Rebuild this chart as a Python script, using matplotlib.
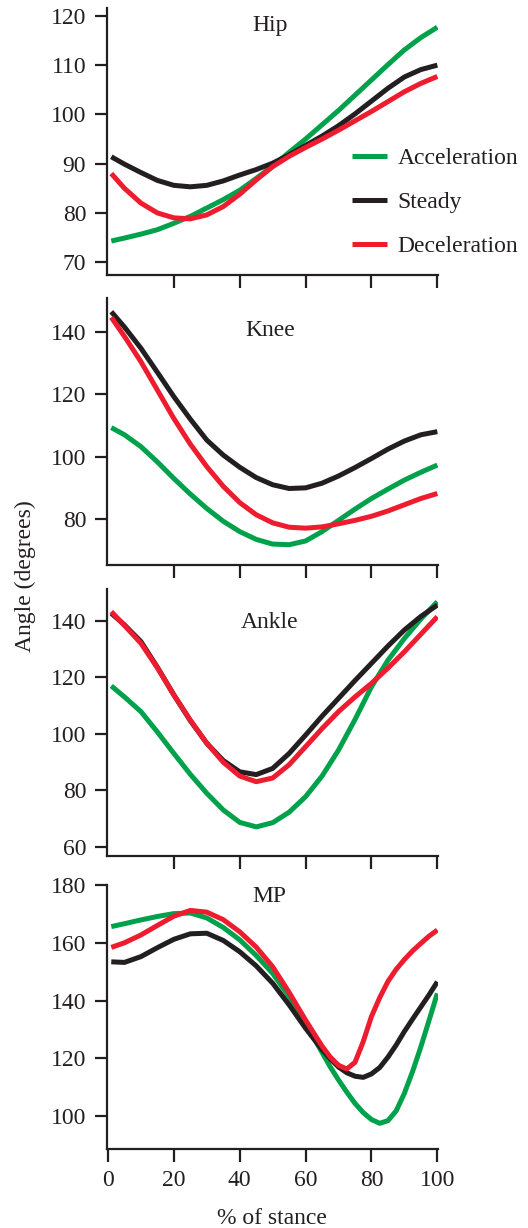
import matplotlib
matplotlib.use("Agg")
import matplotlib.pyplot as plt

plt.rcParams['font.family'] = ['Liberation Serif', 'DejaVu Serif']
plt.rcParams['font.size'] = 17

# ---------------- data ----------------
X = [1, 5, 10, 15, 20, 25, 30, 35, 40, 45, 50, 55, 60, 65, 70, 75, 80, 85, 90, 95, 100]

hip_acc = [74.3, 74.9, 75.7, 76.6, 77.9, 79.3, 81.0, 82.7, 84.6, 87.0, 89.5, 92.3, 95.0,
           97.9, 100.8, 103.9, 107.0, 110.1, 113.1, 115.6, 117.7]
hip_ste = [91.4, 89.9, 88.2, 86.6, 85.6, 85.3, 85.6, 86.5, 87.7, 88.8, 90.1, 91.8, 93.7,
           95.6, 97.7, 100.1, 102.7, 105.3, 107.6, 109.1, 110.0]
hip_dec = [88.0, 85.0, 82.0, 80.0, 79.0, 78.8, 79.6, 81.3, 83.8, 86.7, 89.4, 91.5, 93.3,
           95.0, 96.8, 98.7, 100.6, 102.6, 104.6, 106.3, 107.7]

knee_acc = [109.3, 107.0, 103.2, 98.3, 93.0, 88.0, 83.4, 79.3, 76.0, 73.5, 72.0, 71.8, 73.0,
            76.0, 79.6, 83.2, 86.6, 89.6, 92.5, 95.0, 97.3]
knee_ste = [146.4, 141.5, 134.7, 127.0, 119.2, 112.0, 105.3, 100.5, 96.6, 93.3, 91.0, 89.8, 90.0,
            91.5, 93.8, 96.5, 99.4, 102.4, 105.0, 107.0, 108.0]
knee_dec = [144.6, 138.5, 130.4, 121.3, 112.2, 104.0, 96.8, 90.5, 85.3, 81.4, 78.8, 77.4, 77.1,
            77.5, 78.5, 79.6, 80.9, 82.6, 84.6, 86.6, 88.2]

ankle_acc = [116.9, 113.0, 107.8, 100.6, 93.0, 85.6, 78.9, 73.0, 68.6, 67.0, 68.5, 72.2, 77.7,
             85.0, 94.2, 105.0, 116.6, 126.0, 133.7, 140.6, 146.7]
ankle_ste = [142.6, 138.5, 132.6, 123.5, 113.7, 104.6, 96.6, 90.5, 86.5, 85.5, 87.7, 93.0, 99.5,
             106.2, 112.5, 118.8, 124.9, 131.0, 136.7, 141.5, 145.5]
ankle_dec = [143.2, 138.3, 132.0, 123.3, 113.7, 104.8, 96.6, 89.9, 85.0, 83.0, 84.3, 89.0, 95.4,
             101.8, 107.8, 113.0, 117.8, 123.2, 129.0, 135.2, 141.4]

MP_X = [1, 5, 10, 15, 20, 25, 30, 35, 40, 45, 50, 55, 60, 65, 67.5, 70, 72.5, 75, 77.5, 80,
        82.5, 85, 87.5, 90, 92.5, 95, 97.5, 100]
mp_acc = [165.6, 166.6, 167.9, 169.1, 170.1, 170.3, 168.6, 165.3, 161.0, 155.6, 149.4, 141.3,
          132.1, 122.0, 117.0, 112.5, 108.3, 104.4, 101.2, 98.8, 97.5, 98.4, 101.8, 107.9,
          115.5, 124.0, 133.2, 142.5]
mp_ste = [153.4, 153.2, 155.2, 158.3, 161.2, 163.1, 163.3, 160.8, 156.9, 152.0, 146.0, 138.5,
          130.4, 123.0, 119.8, 117.0, 115.0, 113.8, 113.4, 114.6, 116.8, 120.4, 124.6, 129.3,
          133.6, 137.8, 142.0, 146.5]
mp_dec = [158.4, 160.0, 162.7, 166.0, 169.2, 171.2, 170.6, 168.0, 163.8, 158.5, 151.7, 142.8,
          133.2, 124.2, 120.4, 117.6, 116.3, 118.6, 125.8, 134.5, 141.0, 146.6, 150.8, 154.2,
          157.2, 159.8, 162.3, 164.4]

panel_names = ["Hip", "Knee", "Ankle", "MP"]
series_names = ["Acceleration", "Steady", "Deceleration"]
x_ticks = [0, 20, 40, 60, 80, 100]
hip_yticks = [70, 80, 90, 100, 110, 120]
knee_yticks = [80, 100, 120, 140]
ankle_yticks = [60, 80, 100, 120, 140]
mp_yticks = [100, 120, 140, 160, 180]

# ---------------- style ----------------
colors = ["#00a14b", "#231f20", "#ed1c2e"]
TXT = "#231f20"
W, H = 528, 1228
fig = plt.figure(figsize=(W / 100, H / 100), dpi=100)

left_px, right_px = 107, 438
boxes = [(8, 275), (298, 565), (589, 856), (885, 1149)]
ylims = [(67.4, 121.6), (65.3, 150.8), (56.7, 151.2), (88.6, 180.0)]
yticks = [hip_yticks, knee_yticks, ankle_yticks, mp_yticks]
title_y = [0.933, 0.880, 0.876, 0.955]
data = [
    (X, [hip_acc, hip_ste, hip_dec]),
    (X, [knee_acc, knee_ste, knee_dec]),
    (X, [ankle_acc, ankle_ste, ankle_dec]),
    (MP_X, [mp_acc, mp_ste, mp_dec]),
]

axes = []
for i, ((top, bot), (xs, ys)) in enumerate(zip(boxes, data)):
    ax = fig.add_axes([left_px / W, 1 - bot / H, (right_px - left_px) / W, (bot - top) / H])
    for yv, c, name in zip(ys, colors, series_names):
        ax.plot(xs, yv, color=c, lw=3.6, solid_capstyle='butt', solid_joinstyle='round',
                label=name)
    ax.set_xlim(-0.3, 100.2)
    ax.set_ylim(*ylims[i])
    ax.set_yticks(yticks[i])
    for s in ['top', 'right']:
        ax.spines[s].set_visible(False)
    for s in ['left', 'bottom']:
        ax.spines[s].set_linewidth(1.6)
        ax.spines[s].set_color(TXT)
    ax.tick_params(axis='both', direction='out', length=9, width=1.6, color=TXT,
                   labelcolor=TXT, labelsize=17)
    ax.tick_params(axis='y', pad=6)
    ax.tick_params(axis='x', pad=6)
    if i < 3:
        ax.set_xticks(x_ticks[1:])
        ax.set_xticklabels([])
    else:
        ax.set_xticks(x_ticks)
    ax.patch.set_alpha(0)
    ax.text(0.492, title_y[i], panel_names[i], transform=ax.transAxes, ha='center',
            va='center', fontsize=17, color=TXT)
    axes.append(ax)

axes[0].legend(loc='upper left', bbox_to_anchor=(352 / W, 1 - 147.5 / H),
               bbox_transform=fig.transFigure, frameon=False, borderpad=0,
               borderaxespad=0, handlelength=1.5, handletextpad=0.42,
               labelspacing=0.96, fontsize=17, labelcolor=TXT)

fig.text(25 / W, 1 - 576 / H, "Angle (degrees)", rotation=90, ha='center', va='center',
         fontsize=17, color=TXT)
fig.text(272 / W, 1 - 1218 / H, "% of stance", ha='center', va='center',
         fontsize=17, color=TXT)

fig.savefig("out.png", dpi=100)
